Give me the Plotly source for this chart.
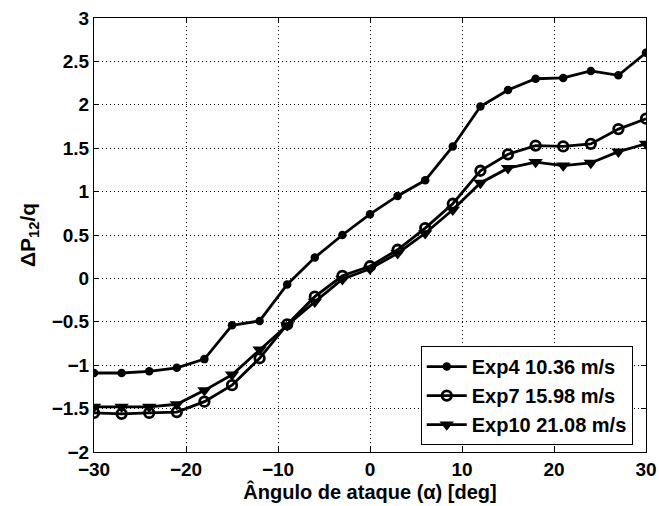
import plotly.graph_objects as go

# Angle of attack (deg)
alpha = [-30, -27, -24, -21, -18, -15, -12, -9, -6, -3, 0,
         3, 6, 9, 12, 15, 18, 21, 24, 27, 30]

# Pressure-difference coefficient dP12/q for each run
exp4 = [-1.09, -1.09, -1.07, -1.03, -0.93, -0.54, -0.49, -0.07, 0.24, 0.50, 0.74,
        0.95, 1.13, 1.52, 1.98, 2.17, 2.30, 2.31, 2.39, 2.34, 2.60]
exp7 = [-1.55, -1.56, -1.55, -1.54, -1.42, -1.23, -0.92, -0.53, -0.21, 0.03, 0.14,
        0.33, 0.58, 0.86, 1.24, 1.43, 1.53, 1.52, 1.55, 1.72, 1.84]
exp10 = [-1.48, -1.48, -1.48, -1.45, -1.29, -1.11, -0.82, -0.54, -0.27, -0.01, 0.11,
         0.29, 0.52, 0.79, 1.10, 1.27, 1.34, 1.30, 1.33, 1.46, 1.55]

names = ["Exp4 10.36 m/s", "Exp7 15.98 m/s", "Exp10 21.08 m/s"]

# Axis ticks and their labels
x_ticks = [-30, -20, -10, 0, 10, 20, 30]
x_labels = ["−30", "−20", "−10", "0", "10", "20", "30"]
y_ticks = [-2, -1.5, -1, -0.5, 0, 0.5, 1, 1.5, 2, 2.5, 3]
y_labels = ["−2", "−1.5", "−1", "−0.5", "0", "0.5", "1", "1.5", "2", "2.5", "3"]

FONT = "Liberation Sans, Arial, sans-serif"
LW = 2.8


def bold(s):
    return "<b>" + s + "</b>"


def font(size):
    return dict(family=FONT, size=size, color="black", weight=700)


fig = go.Figure()
fig.add_trace(go.Scatter(
    x=alpha, y=exp4, name=bold(names[0]), mode="lines+markers",
    line=dict(color="black", width=LW),
    marker=dict(symbol="circle", size=8.5, color="black"),
))
fig.add_trace(go.Scatter(
    x=alpha, y=exp7, name=bold(names[1]), mode="lines+markers",
    line=dict(color="black", width=LW),
    marker=dict(symbol="circle-open", size=9.5, color="black", line=dict(width=2.8)),
))
fig.add_trace(go.Scatter(
    x=alpha, y=exp10, name=bold(names[2]), mode="lines+markers",
    line=dict(color="black", width=LW),
    marker=dict(symbol="triangle-down", size=12.5, color="black"),
))

axis_common = dict(
    showline=True, linecolor="black", linewidth=1, mirror="ticks",
    ticks="inside", ticklen=5, tickcolor="black",
    showgrid=True, gridcolor="black", gridwidth=1, griddash="1px,3px",
    zeroline=False,
    tickfont=font(19),
)

fig.update_xaxes(
    range=[-30, 30], tickmode="array",
    tickvals=x_ticks, ticktext=[bold(t) for t in x_labels],
    title=dict(text=bold("Ângulo de ataque (α) [deg]"), standoff=3, font=font(20)),
    **axis_common,
)
fig.update_yaxes(
    range=[-2, 3], tickmode="array",
    tickvals=y_ticks, ticktext=[bold(t) for t in y_labels],
    title=dict(text=bold("ΔP<sub>12</sub>/q"), standoff=10, font=font(21)),
    **axis_common,
)

fig.update_layout(
    width=659, height=506,
    margin=dict(l=94, r=13, t=18, b=54, autoexpand=False),
    paper_bgcolor="white", plot_bgcolor="white",
    showlegend=True,
    legend=dict(
        x=0.976, y=0.016, xanchor="right", yanchor="bottom",
        bgcolor="white", bordercolor="black", borderwidth=1,
        font=font(20),
        tracegroupgap=0, itemwidth=40,
    ),
    font=dict(family=FONT, color="black"),
)

fig.write_html("out.html")
